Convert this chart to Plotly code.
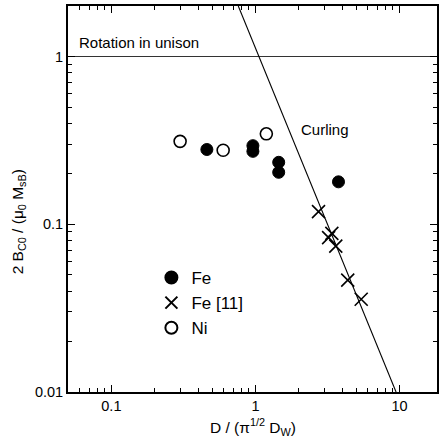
import numpy as np
import plotly.graph_objects as go

# ---- data ----
fe_x = [0.46, 0.96, 0.96, 1.45, 1.45, 3.77]
fe_y = [0.279, 0.294, 0.272, 0.234, 0.204, 0.179]

fe11_x = [2.74, 3.39, 3.22, 3.61, 4.37, 5.42]
fe11_y = [0.119, 0.0883, 0.0833, 0.074, 0.0464, 0.0357]

ni_x = [0.30, 0.597, 1.19]
ni_y = [0.312, 0.276, 0.346]

unison_x = [0.05, 18.2]
unison_y = [1.0, 1.0]

curling_x = [0.76, 9.46]
curling_y = [2.0, 0.01]

x_tickvals = [0.1, 1, 10]
x_ticktext = ["0.1", "1", "10"]
y_tickvals = [0.01, 0.1, 1]
y_ticktext = ["0.01", "0.1", "1"]

x_minor = [m * d for d in (0.01, 0.1, 1) for m in range(2, 10)]
y_minor = [m * d for d in (0.01, 0.1, 1) for m in range(2, 10)]

FONT = "Liberation Sans, Arial, Helvetica, sans-serif"

fig = go.Figure()

fig.add_trace(go.Scatter(x=unison_x, y=unison_y, mode="lines",
                         line=dict(color="#333333", width=1.2), showlegend=False,
                         hoverinfo="skip"))
fig.add_trace(go.Scatter(x=curling_x, y=curling_y, mode="lines",
                         line=dict(color="black", width=1.1), showlegend=False,
                         hoverinfo="skip"))

fig.add_trace(go.Scatter(x=fe_x, y=fe_y, mode="markers", name="Fe",
                         marker=dict(symbol="circle", size=12, color="black",
                                     line=dict(color="black", width=1))))
fig.add_trace(go.Scatter(x=fe11_x, y=fe11_y, mode="markers", name="Fe [11]",
                         marker=dict(symbol="x-thin", size=13, color="black",
                                     line=dict(color="black", width=1.6))))
fig.add_trace(go.Scatter(x=ni_x, y=ni_y, mode="markers", name="Ni",
                         marker=dict(symbol="circle-open", size=12, color="black",
                                     line=dict(color="black", width=1.6))))

axis_common = dict(
    type="log", showgrid=False, zeroline=False,
    showline=True, linecolor="black", linewidth=1.8, mirror="ticks",
    ticks="inside", ticklen=7, tickwidth=1.3, tickcolor="black",
    tickfont=dict(family=FONT, size=14.5, color="black"),
)

fig.update_xaxes(**axis_common, range=[np.log10(0.05), np.log10(18.2)],
                 tickmode="array", tickvals=x_tickvals, ticktext=x_ticktext,
                 minor=dict(tickmode="array", tickvals=x_minor, ticks="inside",
                            ticklen=4, tickwidth=1, tickcolor="black"))
fig.update_yaxes(**axis_common, range=[-2, np.log10(2.0)],
                 tickmode="array", tickvals=y_tickvals, ticktext=y_ticktext,
                 minor=dict(tickmode="array", tickvals=y_minor, ticks="inside",
                            ticklen=4, tickwidth=1, tickcolor="black"))

fig.add_annotation(x=np.log10(0.0578), y=np.log10(1.21), xref="x", yref="y",
                   text="Rotation in unison", showarrow=False, xanchor="left",
                   yanchor="middle", font=dict(family=FONT, size=15, color="black"))
fig.add_annotation(x=np.log10(2.0), y=np.log10(0.366), xref="x", yref="y",
                   text="Curling", showarrow=False, xanchor="left",
                   yanchor="middle", font=dict(family=FONT, size=15, color="black"))

fig.add_annotation(x=-0.135, y=0.44, xref="paper", yref="paper",
                   text="2 B<sub>C0</sub> / (μ<sub>0</sub> M<sub>sB</sub>)",
                   textangle=-90, showarrow=False, xanchor="center", yanchor="middle",
                   font=dict(family=FONT, size=15.5, color="black"))
fig.add_annotation(x=0.5, y=-0.056, xref="paper", yref="paper",
                   text="D / (π<sup>1/2</sup> D<sub>W</sub>)",
                   showarrow=False, xanchor="center", yanchor="top",
                   font=dict(family=FONT, size=15.5, color="black"))

fig.update_layout(
    width=440, height=448,
    margin=dict(l=68, r=1, t=6, b=56),
    paper_bgcolor="white", plot_bgcolor="white",
    font=dict(family=FONT, color="black"),
    showlegend=True,
    legend=dict(x=0.226, y=0.342, xanchor="left", yanchor="top",
                bgcolor="rgba(0,0,0,0)", borderwidth=0,
                font=dict(family=FONT, size=17, color="black"),
                itemsizing="constant", tracegroupgap=0),
)

fig.write_html("out.html",
               config={"displayModeBar": False},
               post_script="document.body.style.margin='0';")
